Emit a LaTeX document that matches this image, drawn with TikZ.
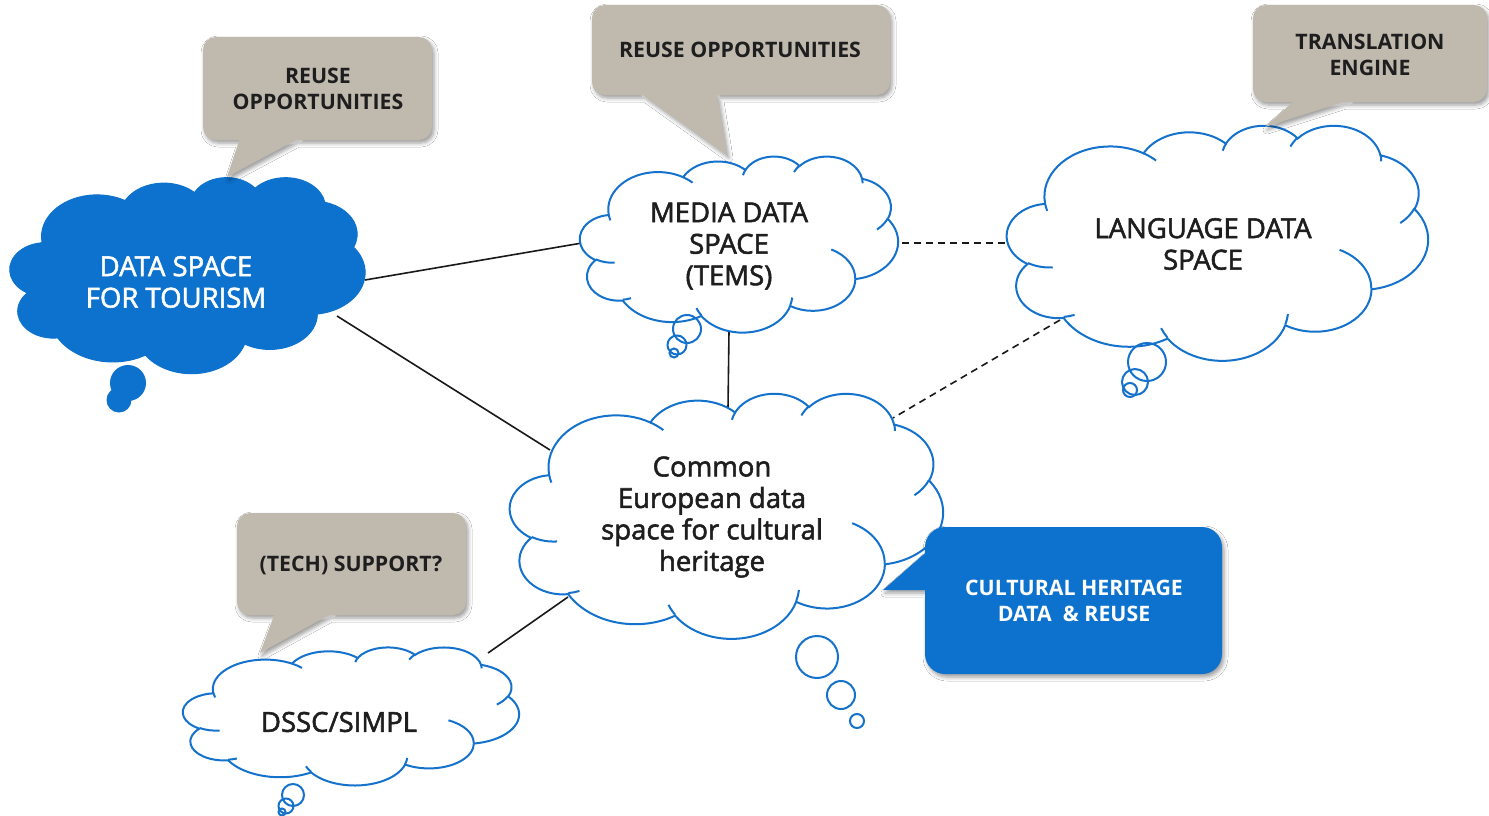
\documentclass[tikz,border=0pt]{standalone}
\usepackage{fontspec}
\setmainfont{Open Sans}
\newfontfamily\medfont[FakeBold=2]{Open Sans}
\usetikzlibrary{shadows.blur}
\definecolor{cloudblue}{RGB}{20,114,204}
\definecolor{fillblue}{RGB}{13,114,206}
\definecolor{callgray}{RGB}{191,185,174}
\definecolor{txtdark}{RGB}{30,30,30}

\newcommand\cloudcalc[4]{%
  \pgfmathsetmacro\cta{atan2((#1)*sin(#3),(#2)*cos(#3))}%
  \pgfmathsetmacro\ctb{atan2((#1)*sin((#3)+(#4)),(#2)*cos((#3)+(#4)))}%
  \pgfmathsetmacro\ctb{\ctb<\cta ? \ctb+360 : \ctb}%
  \xdef\cta{\cta}\xdef\ctb{\ctb}%
}
\newcommand\carc[4]{\pgfextra{\cloudcalc{#1}{#2}{#3}{#4}} arc[start angle=\cta, end angle=\ctb, x radius=#1, y radius=#2]}

% #1 outline style, #2 inner-arc style, #3 x, #4 y, #5 w, #6 h
\newcommand\pptcloud[6]{%
\begin{scope}[shift={(#3,#4)}, xscale=#5/432, yscale=#6/432]
\path[#1] (39.00,143.70)
  \carc{67.53}{91.90}{-190.4875}{123.7805}
  \carc{53.33}{72.67}{-144.1024}{89.9452}
  \carc{43.65}{59.45}{-145.8079}{99.7230}
  \carc{48.57}{65.95}{-130.9861}{117.2417}
  \carc{53.33}{72.73}{-78.7089}{109.0269}
  \carc{67.75}{92.20}{-46.2673}{130.2690}
  \carc{57.85}{78.67}{0.6250}{114.0333}
  \carc{67.52}{92.15}{22.4516}{115.1726}
  \carc{77.20}{105.43}{66.2426}{75.7110}
  \carc{43.60}{59.18}{-274.9421}{146.7356}
  \carc{43.45}{59.45}{-246.8285}{152.5189} -- cycle;
\path[#2]
  (46.93,261.77) \carc{43.45}{59.45}{86.7420}{26.4295}
  (69.28,348.99) \carc{43.60}{59.18}{73.6105}{11.4475}
  (164.78,390.90) \carc{67.52}{92.15}{137.6242}{14.0811}
  (288.27,347.51) \carc{67.52}{92.15}{6.4533}{15.9984}
  (341.29,229.54) \carc{57.85}{78.67}{-70.2924}{70.9174}
  (417.98,153.54) \carc{53.33}{72.73}{30.3180}{27.7515}
  (383.24,54.26) \carc{48.57}{65.95}{-13.7443}{14.8589}
  (290.78,39.52) \carc{48.57}{65.95}{-149.1815}{18.1954}
  (221.41,47.20) \carc{43.65}{59.45}{-163.4943}{17.6864}
  (140.00,51.92) \carc{67.53}{91.90}{-66.7070}{12.3194}
  (41.27,157.89) \carc{67.53}{91.90}{157.6544}{11.8582};
\end{scope}}

\begin{document}
\begin{tikzpicture}[x=1pt,y=-1pt,
  cloudline/.style={draw=cloudblue, line width=2pt},
  wcloud/.style={cloudline, fill=white},
  bcloud/.style={draw=fillblue, fill=fillblue, line width=1pt},
  inner/.style={draw=cloudblue, line width=2pt},
  noinner/.style={},
  link/.style={draw=black!90, line width=1.6pt},
  dlink/.style={link, dash pattern=on 7pt off 5pt},
  txt/.style={align=center, inner sep=0pt, text=txtdark, font=\medfont\fontsize{27.5}{31.5}\selectfont},
  ctxt/.style={align=center, inner sep=0pt, text=txtdark, font=\bfseries\fontsize{21.3}{26.5}\selectfont},
  callout/.style={fill=callgray, blur shadow={shadow xshift=2pt, shadow yshift=-3pt, shadow blur radius=4pt}},
  bcallout/.style={fill=fillblue, blur shadow={shadow xshift=2pt, shadow yshift=-3pt, shadow blur radius=4pt}}
]
\useasboundingbox (0,0) rectangle (1489,816);
\fill[white] (0,0) rectangle (1489,816);

% connector end points
\coordinate (tourE) at (365,280);
\coordinate (mediaW) at (582,243);
\coordinate (tourSE) at (337,316);
\coordinate (chNW) at (550,450);
\coordinate (mediaS) at (729,331);
\coordinate (chN) at (728,408);
\coordinate (mediaE) at (902,243);
\coordinate (langW) at (1008,243);
\coordinate (langSW) at (1060,320);
\coordinate (chNE) at (893,418);
\coordinate (chSW) at (568,597);
\coordinate (dsscNE) at (488,653);

\draw[link] (tourE) -- (mediaW);
\draw[link] (tourSE) -- (chNW);
\draw[link] (mediaS) -- (chN);
\draw[dlink] (mediaE) -- (langW);
\draw[dlink] (langSW) -- (chNE);
\draw[link] (chSW) -- (dsscNE);

% clouds
\pptcloud{bcloud}{noinner}{10}{177}{355}{196}
\fill[fillblue] (128,383) circle[radius=18];
\fill[fillblue] (119,400) circle[radius=12.5];

\pptcloud{wcloud}{inner}{580}{156}{318}{176}
\draw[cloudline] (687,329) circle[radius=14];
\draw[cloudline] (677,345) circle[radius=9.5];
\draw[cloudline] (674,353) circle[radius=4.5];

\pptcloud{wcloud}{inner}{1007}{125}{421}{235}
\draw[cloudline] (1147,362) circle[radius=19];
\draw[cloudline] (1135,382) circle[radius=13];
\draw[cloudline] (1130,390) circle[radius=7];

\pptcloud{wcloud}{inner}{510}{393}{433}{245}
\draw[cloudline] (817,657) circle[radius=21];
\draw[cloudline] (841,695) circle[radius=14];
\draw[cloudline] (857,721) circle[radius=7];

\pptcloud{wcloud}{inner}{183}{647}{336}{138}
\draw[cloudline] (293,795) circle[radius=11];
\draw[cloudline] (286,806) circle[radius=7.5];
\draw[cloudline] (282,812) circle[radius=3.5];

% cloud texts
\node[txt, text=white] (tour) at (176,282) {DATA SPACE\\FOR TOURISM};
\node[txt] (media) at (729,246) {MEDIA DATA\\SPACE\\(TEMS)};
\node[txt] (lang) at (1203,244) {LANGUAGE DATA\\SPACE};
\node[txt] (ch) at (712,517) {Common\\European data\\space for cultural\\heritage};
\node[txt] (dssc) at (339,722) {DSSC/SIMPL};

% callouts
\path[callout] [rounded corners=13] (203,37) -- (432,37) -- (432,140) -- (203,140) -- cycle
  [sharp corners] (240,138) -- (300,138) -- (227,177) -- cycle;
\node[ctxt] (c1) at (318,89) {REUSE\\OPPORTUNITIES};

\path[callout] [rounded corners=13] (592,5) -- (890,5) -- (890,95) -- (592,95) -- cycle
  [sharp corners] (640,93) -- (717,93) -- (727,155) -- cycle;
\node[ctxt] (c2) at (740,50) {REUSE OPPORTUNITIES};

\path[callout] [rounded corners=13] (1253,5) -- (1487,5) -- (1487,102) -- (1253,102) -- cycle
  [sharp corners] (1295,100) -- (1350,100) -- (1265,127) -- cycle;
\node[ctxt] (c3) at (1370,55) {TRANSLATION\\ENGINE};

\path[callout] [rounded corners=13] (237,513) -- (466,513) -- (466,615) -- (237,615) -- cycle
  [sharp corners] (275,613) -- (333,613) -- (260,653) -- cycle;
\node[ctxt] (c4) at (351,565) {(TECH) SUPPORT?};

\path[bcallout] [rounded corners=20] (925,527) -- (1222,527) -- (1222,674) -- (925,674) -- cycle
  [sharp corners] (883,590) -- (940,540) -- (940,590) -- cycle;
\node[ctxt, text=white] (c5) at (1074,601) {CULTURAL HERITAGE\\DATA\ \ \&\ REUSE};
\end{tikzpicture}
\end{document}
